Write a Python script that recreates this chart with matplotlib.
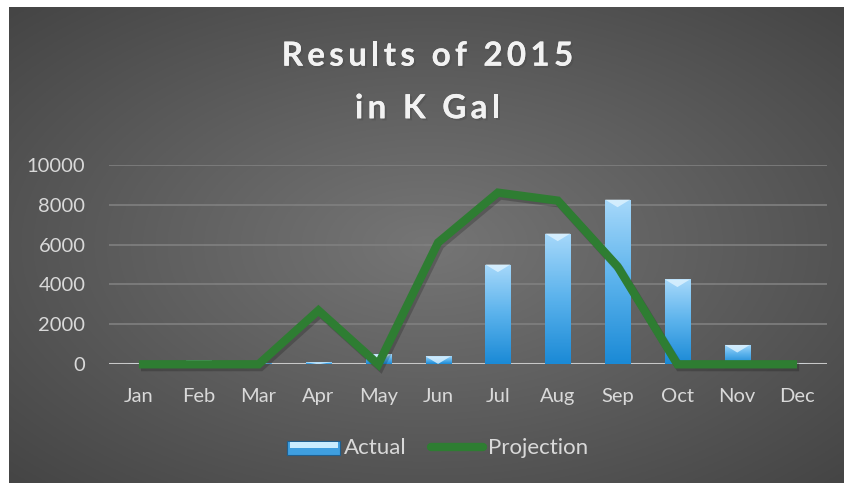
import matplotlib
matplotlib.use("Agg")
import matplotlib.pyplot as plt
import numpy as np
import matplotlib.patheffects as pe
from matplotlib.lines import Line2D
from matplotlib.patches import Rectangle, Polygon
from matplotlib.legend_handler import HandlerBase
from matplotlib.colors import LinearSegmentedColormap
from matplotlib.font_manager import FontProperties

months = ["Jan", "Feb", "Mar", "Apr", "May", "Jun",
          "Jul", "Aug", "Sep", "Oct", "Nov", "Dec"]
actual = [30, 200, 50, 100, 500, 400, 5000, 6550, 8250, 4250, 970, 30]
projection = [0, 0, 0, 2700, 0, 6100, 8600, 8200, 4900, 0, 0, 0]
yticks = [0, 2000, 4000, 6000, 8000, 10000]
title_lines = ["Results of 2015", "in K Gal"]

W, H = 845, 483
fig = plt.figure(figsize=(W / 100, H / 100), dpi=100)
fig.patch.set_facecolor("white")

# radial grey background
bg = fig.add_axes([9 / W, 0, 1 - 9 / W, 1 - 7 / H])
bg.set_axis_off()
yy, xx = np.mgrid[-1:1:300j, -1:1:500j]
r = np.sqrt(xx ** 2 + yy ** 2) / np.sqrt(2)
shade = 0.46 - 0.19 * r
bg.imshow(np.dstack([shade] * 3), aspect="auto", extent=(0, 1, 0, 1))
bg.set_xlim(0, 1)
bg.set_ylim(0, 1)

ax = fig.add_axes([109 / W, (H - 364.3) / H, (827 - 109) / W, (364.3 - 164.7) / H])
ax.patch.set_alpha(0)
x = np.arange(len(months))

bars = ax.bar(x, actual, width=0.42, color="#3a9ee0", edgecolor="#1f5f8f",
              linewidth=0.6, zorder=3)
grad = np.linspace(0, 1, 100).reshape(-1, 1)
cmap = LinearSegmentedColormap.from_list("b", ["#1b8ad6", "#5ab2ec", "#a6d8fa"])
for b in bars:
    x0, w, h = b.get_x(), b.get_width(), b.get_height()
    im = ax.imshow(grad, cmap=cmap, aspect="auto", origin="lower",
                   extent=(x0, x0 + w, 0, h), zorder=3.5)
    im.set_clip_path(b)
    tri = min(h, 380)
    ax.add_patch(Polygon([(x0, h), (x0 + w, h), (x0 + w / 2, h - tri)],
                         closed=True, facecolor="#dff3ff", alpha=0.8,
                         edgecolor="none", zorder=3.6))

ax.plot(x, projection, color="#2e7d32", linewidth=6, solid_capstyle="butt",
        solid_joinstyle="miter", zorder=4, clip_on=False,
        path_effects=[pe.SimpleLineShadow(offset=(1.5, -2), alpha=0.2),
                      pe.Normal()])

ax.set_xlim(-0.5, 11.5)
ax.set_ylim(0, 10000)
ax.set_yticks(yticks)
ax.set_xticks(x)
ax.set_xticklabels(months)
for s in ax.spines.values():
    s.set_visible(False)
ax.tick_params(length=0, colors="#d9d9d9", labelsize=14.5)
ax.tick_params(axis="x", pad=17)
ax.tick_params(axis="y", pad=17)
for lab in ax.get_xticklabels() + ax.get_yticklabels():
    lab.set_family("Lato")
ax.grid(axis="y", color="#808080", linewidth=1.2, zorder=0)
ax.axhline(0, color="#c8c8c8", linewidth=2.2, zorder=2)

# spaced title, one character at a time
renderer = fig.canvas.get_renderer()
fp = FontProperties(family="Lato", weight="bold", size=24)
spacing = 4.2
shadow = [pe.withSimplePatchShadow(offset=(1.5, -1.5), alpha=0.4), pe.Normal()]


def text_w(s):
    if not s:
        return 0.0
    wx, _, _ = renderer.get_text_width_height_descent(s + "x", fp, ismath=False)
    wref, _, _ = renderer.get_text_width_height_descent("x", fp, ismath=False)
    return wx - wref


for line, base in zip(title_lines, [65.7, 118.3]):
    total = text_w(line) + spacing * (len(line) - 1)
    left = (W - total) / 2 + 5
    for i, ch in enumerate(line):
        px = left + text_w(line[:i]) + spacing * i
        fig.text(px / W, (H - base) / H, ch, ha="left", va="baseline",
                 fontproperties=fp, color="#f2f2f2", path_effects=shadow)


class BarHandler(HandlerBase):
    def create_artists(self, legend, orig, xd, yd, width, height, fontsize, trans):
        rect = Rectangle((xd, yd), width, height,
                         facecolor="#3f9fe0", edgecolor="#1f5f8f", lw=0.8,
                         transform=trans)
        top = Rectangle((xd + 1.5, yd + height * 0.5), width - 3, height * 0.38,
                        facecolor="#c8ecff", edgecolor="none", transform=trans)
        return [rect, top]


handles = [Rectangle((0, 0), 1, 1), Line2D([], [], color="#2e7d32", lw=6,
                                            solid_capstyle="round")]
leg = fig.legend(handles, ["Actual", "Projection"], loc="center",
                 bbox_to_anchor=(0.518, (H - 448) / H), ncol=2, frameon=False,
                 handler_map={Rectangle: BarHandler()}, handlelength=2.35,
                 handleheight=0.6, handletextpad=0.2, columnspacing=1.1,
                 prop={"family": "Lato", "size": 16})
for t in leg.get_texts():
    t.set_color("#d9d9d9")

fig.savefig("out.png", dpi=100)
